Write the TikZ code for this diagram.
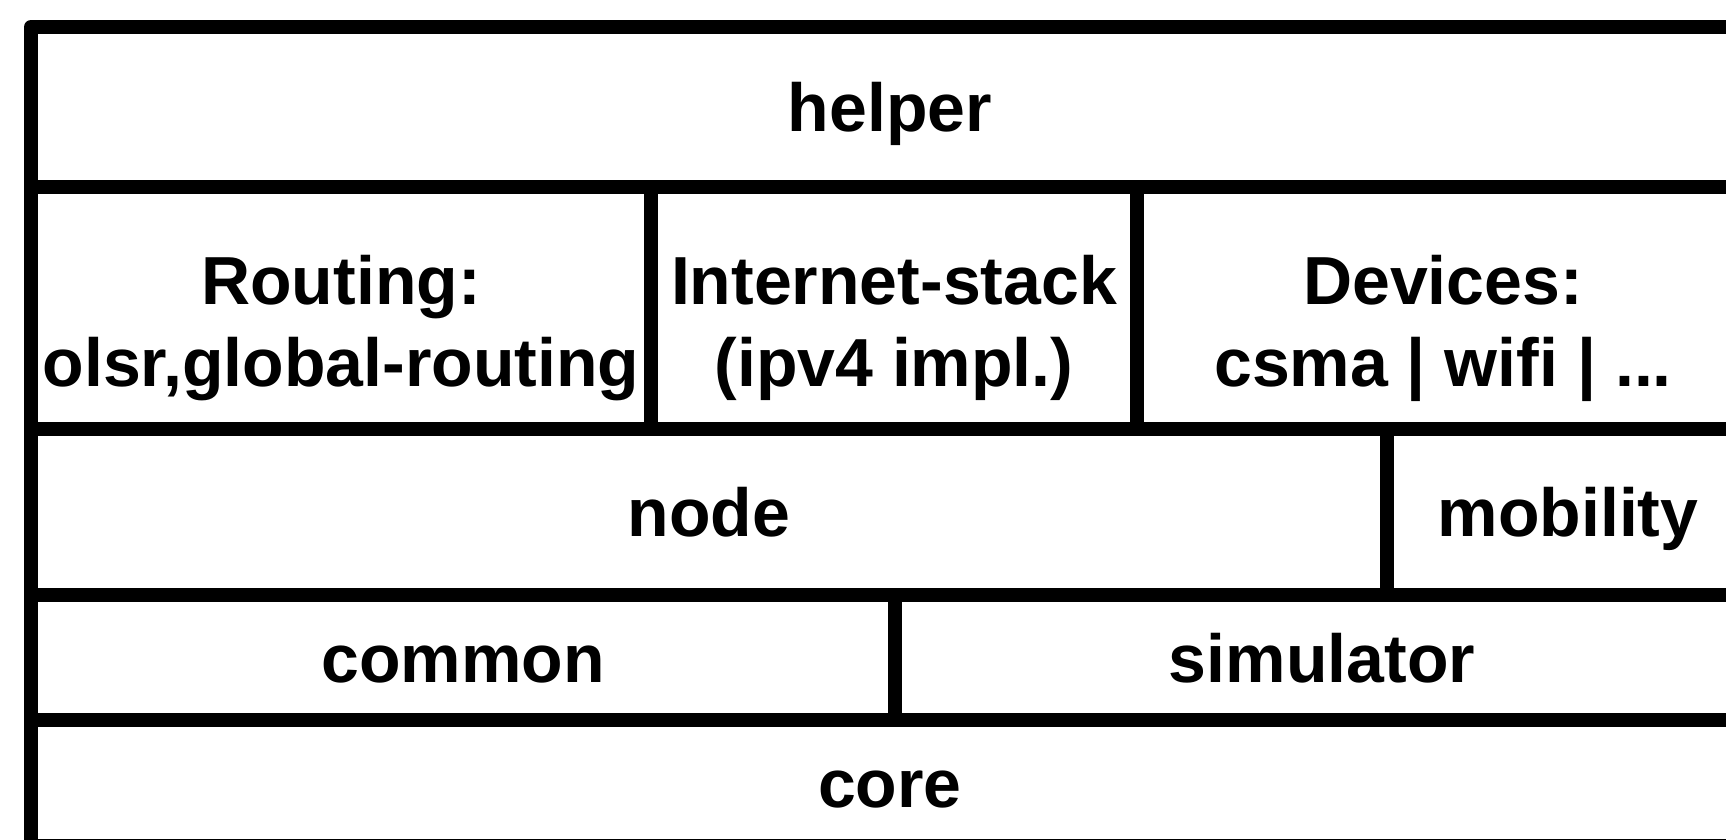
\documentclass[tikz,border=0pt]{standalone}
\usepackage{fontspec}
\setmainfont{Liberation Sans}
\begin{document}
\begin{tikzpicture}[x=0.5pt, y=-0.5pt,
  cell/.style={draw=black, line width=7pt, line join=round, rectangle,
    inner sep=0pt, outer sep=0pt},
  label/.style={inner sep=0pt, font=\bfseries\fontsize{34}{41}\selectfont},
  oneline/.style={label, text height=24.5pt, text depth=0pt},
  twoline/.style={label, align=center, yshift=-10pt}]
  % page frame
  \useasboundingbox (0,0) rectangle (1726,840);
  \clip (0,0) rectangle (1726,840);

  % layer boxes
  \node[cell, minimum width=859pt, minimum height=80pt]   (helper)    at (890,107)  {};
  \node[cell, minimum width=310pt, minimum height=121pt]  (routing)   at (341,308)  {};
  \node[cell, minimum width=243pt, minimum height=121pt]  (internet)  at (894,308)  {};
  \node[cell, minimum width=306pt, minimum height=121pt]  (devices)   at (1443,308) {};
  \node[cell, minimum width=678pt, minimum height=83pt]   (nodebox)   at (709,512)  {};
  \node[cell, minimum width=181pt, minimum height=83pt]   (mobility)  at (1568,512) {};
  \node[cell, minimum width=432pt, minimum height=62.5pt] (common)    at (463,657.5) {};
  \node[cell, minimum width=427pt, minimum height=62.5pt] (simulator) at (1322,657.5) {};
  \node[cell, minimum width=859pt, minimum height=63pt]   (core)      at (890,783)  {};

  % layer names
  \node[oneline] (helper-t)    at (helper.center)    {helper};
  \node[twoline] (routing-t)   at (routing.center)   {Routing:\\olsr,global-routing};
  \node[twoline] (internet-t)  at (internet.center)  {Internet-stack\\(ipv4 impl.)};
  \node[twoline] (devices-t)   at (devices.center)   {Devices:\\csma | wifi | ...};
  \node[oneline] (nodebox-t)   at (nodebox.center)   {node};
  \node[oneline] (mobility-t)  at (mobility.center)  {mobility};
  \node[oneline] (common-t)    at (common.center)    {common};
  \node[oneline] (simulator-t) at (simulator.center) {simulator};
  \node[oneline] (core-t)      at (core.center)      {core};
\end{tikzpicture}
\end{document}
